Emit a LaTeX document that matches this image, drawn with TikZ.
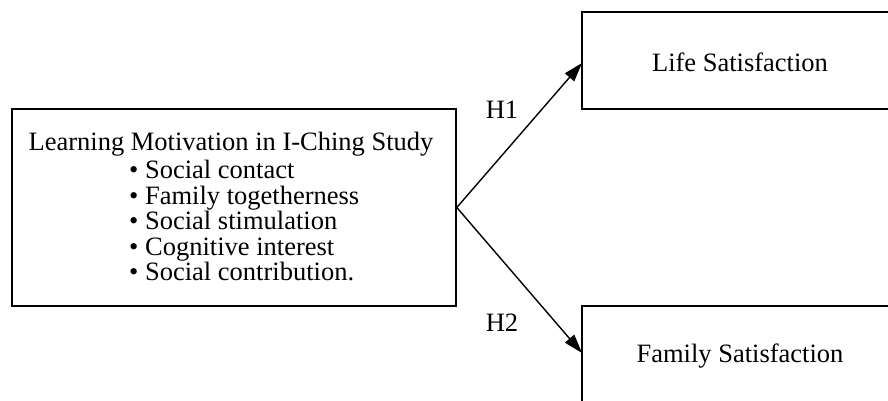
\documentclass[tikz,border=0pt]{standalone}
\usepackage{fontspec}
\setmainfont{Liberation Serif}
\usetikzlibrary{arrows.meta}
\begin{document}
\begin{tikzpicture}[x=1pt,y=-1pt,
  boxst/.style={draw, line width=1.6pt, inner sep=0pt},
  arr/.style={line width=1.4pt, -{Triangle[length=19pt,width=12pt]}},
  lbl/.style={font=\fontsize{26.5}{25.5}\selectfont, inner sep=0pt}]
\useasboundingbox (0,0) rectangle (888,401);
\clip (0,0) rectangle (888,401);
\node[boxst, minimum width=444pt, minimum height=197pt] (lm) at (234,207.5) {};
\node[lbl, anchor=base] (title) at (231,150.5) {Learning Motivation in I-Ching Study};
\node[lbl, anchor=base west, align=left] (items) at (129,280.5) {%
\textbullet\ Social contact\\
\textbullet\ Family togetherness\\
\textbullet\ Social stimulation\\
\textbullet\ Cognitive interest\\
\textbullet\ Social contribution.};
\node[boxst, minimum width=316pt, minimum height=97pt] (ls) at (740,60.5) {};
\node[lbl] (lst) at (740,62) {Life Satisfaction};
\node[boxst, minimum width=316pt, minimum height=97pt] (fs) at (740,354.5) {};
\node[lbl] (fst) at (740,356) {Family Satisfaction};
\coordinate (src) at (lm.east);
\coordinate (t1) at (582,63);
\coordinate (t2) at (582,353);
\draw[arr] (src) -- (t1);
\draw[arr] (src) -- (t2);
\node[lbl] (h1) at (502,110) {H1};
\node[lbl] (h2) at (502,323) {H2};
\end{tikzpicture}
\end{document}
